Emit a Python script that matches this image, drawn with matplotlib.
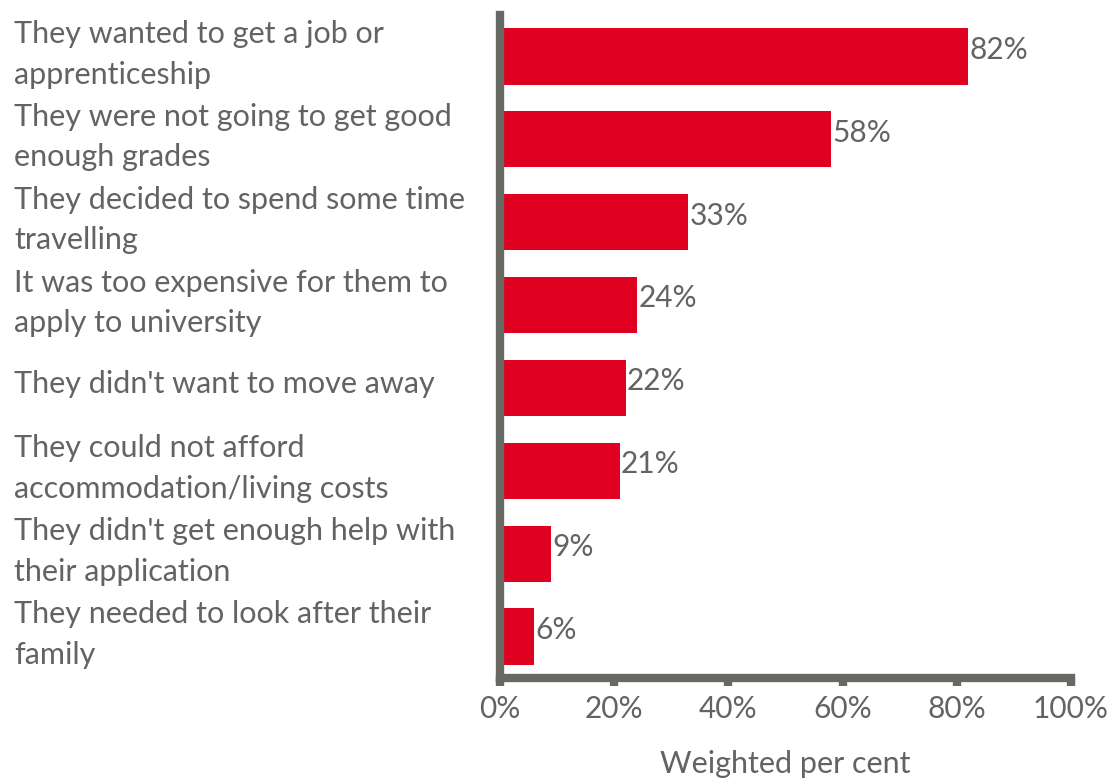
import matplotlib
matplotlib.use("Agg")
import matplotlib.pyplot as plt
from matplotlib.ticker import FuncFormatter
from matplotlib.transforms import ScaledTranslation

categories = [
    "They wanted to get a job or\napprenticeship",
    "They were not going to get good\nenough grades",
    "They decided to spend some time\ntravelling",
    "It was too expensive for them to\napply to university",
    "They didn't want to move away",
    "They could not afford\naccommodation/living costs",
    "They didn't get enough help with\ntheir application",
    "They needed to look after their\nfamily",
]
values = [82, 58, 33, 24, 22, 21, 9, 6]
x_ticks = [0, 20, 40, 60, 80, 100]
x_label = "Weighted per cent"

RED = "#E00022"
AXIS_GREY = "#696963"
TEXT_GREY = "#636363"
FS = 22

plt.rcParams["font.family"] = ["Lato", "DejaVu Sans"]

W, H = 1109, 779
fig = plt.figure(figsize=(W / 100, H / 100), dpi=100)
left_px, right_px, top_px, bottom_px = 500, 1071, 15, 678
ax = fig.add_axes([left_px / W, 1 - bottom_px / H,
                   (right_px - left_px) / W, (bottom_px - top_px) / H])

y = list(range(len(categories)))
ax.barh(y, values, height=0.68, color=RED, zorder=2)

ax.set_xlim(0, 100)
ax.set_ylim(len(categories) - 0.5, -0.5)

for spine in ("top", "right"):
    ax.spines[spine].set_visible(False)
for spine in ("left", "bottom"):
    ax.spines[spine].set_color(AXIS_GREY)
    ax.spines[spine].set_linewidth(6)
    ax.spines[spine].set_capstyle("projecting")

ax.set_xticks(x_ticks)
ax.xaxis.set_major_formatter(FuncFormatter(lambda v, _: f"{v:.0f}%"))
ax.tick_params(axis="x", direction="out", length=6, width=6,
               color=AXIS_GREY, labelcolor=TEXT_GREY, labelsize=FS - 0.5, pad=6)

# Category labels flush-left near the figure edge; two-line labels sit a bit higher
label_pad_pt = (left_px - 14) * 72 / 100
ax.set_yticks(y)
ax.set_yticklabels(categories)
ax.tick_params(axis="y", length=0, pad=label_pad_pt,
               labelcolor=TEXT_GREY, labelsize=FS)
for lab in ax.get_yticklabels():
    lift = 11 if "\n" in lab.get_text() else 6
    lab.set_horizontalalignment("left")
    lab.set_linespacing(1.55)
    lab.set_transform(lab.get_transform()
                      + ScaledTranslation(0, lift / 100, fig.dpi_scale_trans))

for yi, v in zip(y, values):
    ax.text(v + 0.2, yi - 0.08, f"{v}%", va="center", ha="left",
            fontsize=FS - 0.5, color=TEXT_GREY)

ax.set_xlabel(x_label, fontsize=FS, color=TEXT_GREY, labelpad=20)

fig.savefig("out.png", dpi=100)
